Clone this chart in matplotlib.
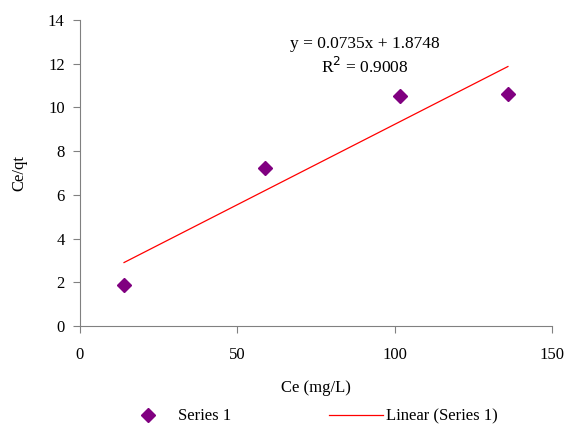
import matplotlib
matplotlib.use("Agg")
import matplotlib.pyplot as plt
import numpy as np

ce = [14.0, 58.8, 101.7, 136.0]
ce_qt = [1.88, 7.23, 10.52, 10.61]
slope = 0.0735
intercept = 1.8748
r2 = 0.9008
xticks = [0, 50, 100, 150]
yticks = [0, 2, 4, 6, 8, 10, 12, 14]

plt.rcParams['font.family'] = ['Liberation Serif', 'DejaVu Serif']
fig = plt.figure(figsize=(5.68, 4.25), dpi=100)
ax = fig.add_axes([0.1408, 0.2329, 0.8310, 0.7201])

h1, = ax.plot(ce, ce_qt, linestyle='none', marker='D', color='#800080', markersize=7, label='Series 1')
xl = np.array([min(ce), max(ce)])
h2, = ax.plot(xl, slope * xl + intercept, color='#ff0000', linewidth=0.9, label='Linear (Series 1)')

ax.set_xlim(0, 150)
ax.set_ylim(0, 14)
ax.set_xticks(xticks)
ax.set_yticks(yticks)
for s in ['top', 'right']:
    ax.spines[s].set_visible(False)
for s in ['left', 'bottom']:
    ax.spines[s].set_color('#808080')
    ax.spines[s].set_linewidth(0.8)
ax.tick_params(direction='out', length=5, color='#808080', labelsize=12)
ax.tick_params(axis='x', pad=10)
ax.tick_params(axis='y', pad=6)
ax.set_xlabel('Ce (mg/L)', fontsize=12, labelpad=12)
ax.set_ylabel('Ce/qt', fontsize=12, labelpad=15)

ax.text(0.603, 0.922, f'y = {slope}x + {intercept}', transform=ax.transAxes, ha='center', va='center', fontsize=12.5)
ax.text(0.603, 0.845, f'R$^2$ = {r2}', transform=ax.transAxes, ha='center', va='center', fontsize=12.5)

fig.legend(handles=[h1, h2], loc='center', bbox_to_anchor=(0.545, 0.02), ncol=2, frameon=False,
           fontsize=12, columnspacing=5.9, handlelength=3.2, handletextpad=0.2)

fig.savefig('out.png', dpi=100)
